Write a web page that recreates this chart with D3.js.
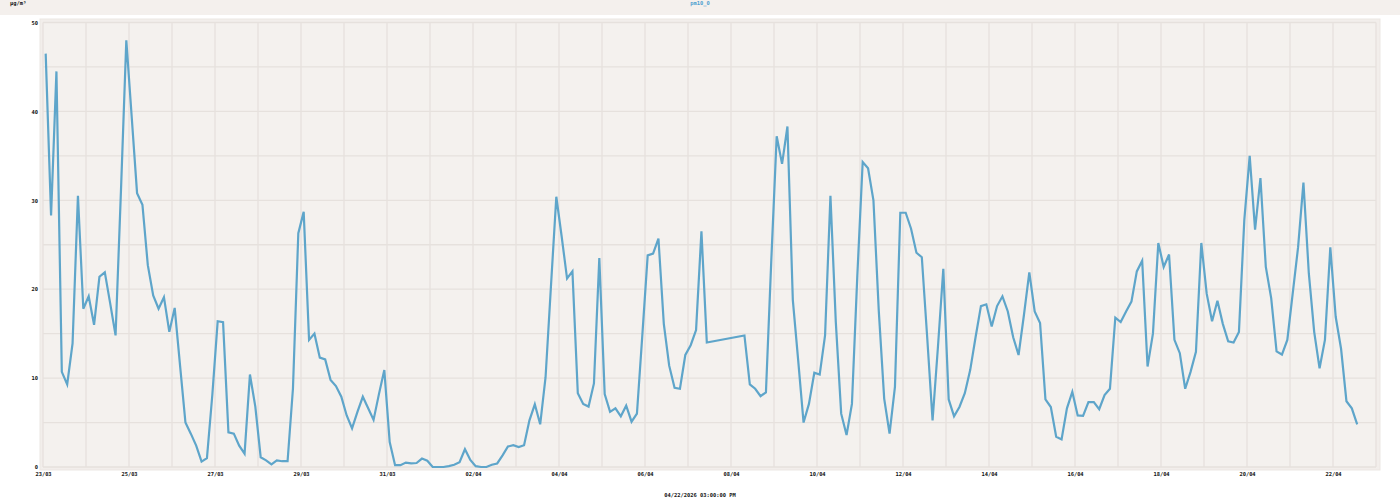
<!DOCTYPE html>
<html><head><meta charset="utf-8">
<script src="https://cdn.jsdelivr.net/npm/d3@7"></script>
<style>
html,body{margin:0;padding:0;background:#fff;}
svg{display:block;}
text{font-family:"DejaVu Sans Mono",monospace;font-weight:bold;}
</style></head>
<body>
<svg id="chart" width="1400" height="500"></svg>
<script>
// ---- data ----
const seriesName = "pm10_0";
const unitLabel = "μg/m³";
const footerLabel = "04/22/2026 03:00:00 PM";
const startTime = "2026-03-23T01:30:00";   // first sample
const stepHours = 3;                        // sampling interval
const domainStart = "2026-03-23T00:00:00";
const domainEnd = "2026-04-23T00:00:00";
const yTicksLabelled = [0, 10, 20, 30, 40, 50];
const xTickDates = ["2026-03-23", "2026-03-25", "2026-03-27", "2026-03-29", "2026-03-31",
  "2026-04-02", "2026-04-04", "2026-04-06", "2026-04-08", "2026-04-10", "2026-04-12",
  "2026-04-14", "2026-04-16", "2026-04-18", "2026-04-20", "2026-04-22"];
// null = missing sample
const pm10 = [
 46.5, 28.3, 44.5, 10.7, 9.3, 13.9, 30.5, 17.8, 19.2, 16.0,
 21.4, 21.9, 18.4, 14.8, 31.0, 48.0, 39.4, 30.8, 29.5, 22.7,
 19.3, 17.8, 19.1, 15.2, 17.9, 11.4, 5.0, 3.75, 2.4, 0.6,
 1.0, 8.1, 16.4, 16.3, 3.9, 3.75, 2.4, 1.5, 10.4, 6.8,
 1.1, 0.75, 0.3, 0.75, 0.65, 0.65, 8.8, 26.3, 28.7, 14.3,
 15.0, 12.3, 12.1, 9.8, 9.1, 7.9, 5.8, 4.35, 6.2, 7.9,
 6.6, 5.3, 8.2, 10.9, 2.8, 0.2, 0.2, 0.5, 0.4, 0.45,
 0.95, 0.7, 0.0, 0.0, 0.0, 0.1, 0.25, 0.55, 2.0, 0.8,
 0.1, 0.0, 0.0, 0.25, 0.4, 1.3, 2.3, 2.45, 2.25, 2.45,
 5.25, 7.05, 4.8, 10.1, 20.3, 30.4, 25.9, 21.2, 22.0, 8.3,
 7.1, 6.8, 9.4, 23.5, 8.2, 6.2, 6.6, 5.7, 6.9, 5.1,
 6.0, 14.8, 23.8, 24.0, 25.7, 16.1, 11.4, 8.9, 8.8, 12.6,
 13.7, 15.4, 26.5, 14.0, null, null, null, null, null, null,
 14.8, 9.3, 8.8, 7.96, 8.4, 23.3, 37.2, 34.1, 38.3, 18.8,
 12.0, 5.0, 7.1, 10.6, 10.4, 14.8, 30.5, 16.3, 6.0, 3.6,
 7.1, 21.5, 34.3, 33.6, 30.0, 17.5, 7.7, 3.75, 9.0, 28.6,
 28.6, 26.8, 24.1, 23.6, 14.6, 5.25, 13.5, 22.3, 7.6, 5.7,
 6.75, 8.3, 10.9, 14.6, 18.1, 18.3, 15.8, 18.1, 19.2, 17.5,
 14.6, 12.6, 17.1, 21.9, 17.5, 16.2, 7.6, 6.75, 3.4, 3.1,
 6.6, 8.45, 5.8, 5.75, 7.3, 7.3, 6.5, 8.1, 8.8, 16.8,
 16.3, 17.5, 18.6, 22.0, 23.2, 11.3, 15.0, 25.2, 22.5, 23.9,
 14.3, 12.8, 8.8, 10.7, 12.95, 25.2, 19.5, 16.4, 18.7, 16.1,
 14.15, 14.0, 15.2, 27.8, 35.0, 26.7, 32.5, 22.5, 19.0, 13.0,
 12.65, 14.3, 19.5, 24.7, 32.0, 21.8, 15.2, 11.1, 14.3, 24.7,
 16.9, 13.3, 7.4, 6.6, 4.8
];

// ---- chart ----
const svg = d3.select("#chart");
const W = 1400, H = 500;
const plot = {left: 43, right: 1376, top: 22.5, bottom: 467};

// header band
svg.append("rect").attr("x", 0).attr("y", 0).attr("width", W).attr("height", 15).attr("fill", "#f4f0ed");
// panel
svg.append("rect").attr("x", 40).attr("y", 19).attr("width", 1340).attr("height", 451)
  .attr("fill", "#f2eeeb").attr("stroke", "#ece7e3").attr("stroke-width", 1);
svg.append("rect").attr("x", plot.left).attr("y", plot.top)
  .attr("width", plot.right - plot.left).attr("height", plot.bottom - plot.top).attr("fill", "#f4f1ee");

const parse = d3.isoParse;
const parseDay = d3.timeParse("%Y-%m-%d");
const x = d3.scaleTime().domain([parse(domainStart), parse(domainEnd)]).range([plot.left, plot.right]);
const y = d3.scaleLinear().domain([0, 50]).range([plot.bottom, plot.top]);

const t0 = parse(startTime);
const data = pm10.map((v, i) => ({t: d3.timeHour.offset(t0, i * stepHours), v}))
  .filter(d => d.v !== null);

// grid
const gridColor = "#e6e1dd";
const g = svg.append("g");
g.selectAll("line.v").data(x.ticks(d3.timeDay.every(1))).join("line")
  .attr("x1", d => x(d)).attr("x2", d => x(d)).attr("y1", plot.top).attr("y2", plot.bottom)
  .attr("stroke", gridColor).attr("stroke-width", 1.3);
g.selectAll("line.h").data(d3.range(0, 51, 5)).join("line")
  .attr("x1", plot.left).attr("x2", plot.right).attr("y1", d => y(d)).attr("y2", d => y(d))
  .attr("stroke", gridColor).attr("stroke-width", 1.3);

// axes
const fmt = d3.timeFormat("%d/%m");
const xAxis = d3.axisBottom(x).tickValues(xTickDates.map(parseDay))
  .tickFormat(fmt).tickSize(0).tickPadding(5);
const ax = svg.append("g").attr("transform", `translate(0,${plot.bottom})`).call(xAxis);
ax.select(".domain").remove();
ax.selectAll("text").attr("font-size", 5.4).attr("fill", "#111")
  .attr("font-family", "'DejaVu Sans Mono',monospace").attr("font-weight", "bold");

const yAxis = d3.axisLeft(y).tickValues(yTicksLabelled).tickSize(0).tickPadding(5);
const ay = svg.append("g").attr("transform", `translate(${plot.left},0)`).call(yAxis);
ay.select(".domain").remove();
ay.selectAll("text").attr("font-size", 5.4).attr("fill", "#111")
  .attr("font-family", "'DejaVu Sans Mono',monospace").attr("font-weight", "bold");

// line
const line = d3.line().x(d => x(d.t)).y(d => y(d.v));
svg.append("path").datum(data).attr("d", line)
  .attr("fill", "none").attr("stroke", "#5ea5ca").attr("stroke-width", 2.2)
  .attr("stroke-linejoin", "miter");

// texts
svg.append("text").attr("x", 10).attr("y", 5).text(unitLabel)
  .attr("font-size", 5.4).attr("fill", "#111");
svg.append("text").attr("x", 700).attr("y", 5).attr("text-anchor", "middle").text(seriesName)
  .attr("font-size", 5.4).attr("fill", "#4f9fd0");
svg.append("text").attr("x", 700).attr("y", 497).attr("text-anchor", "middle").text(footerLabel)
  .attr("font-size", 5.4).attr("fill", "#111");
</script>
</body></html>
